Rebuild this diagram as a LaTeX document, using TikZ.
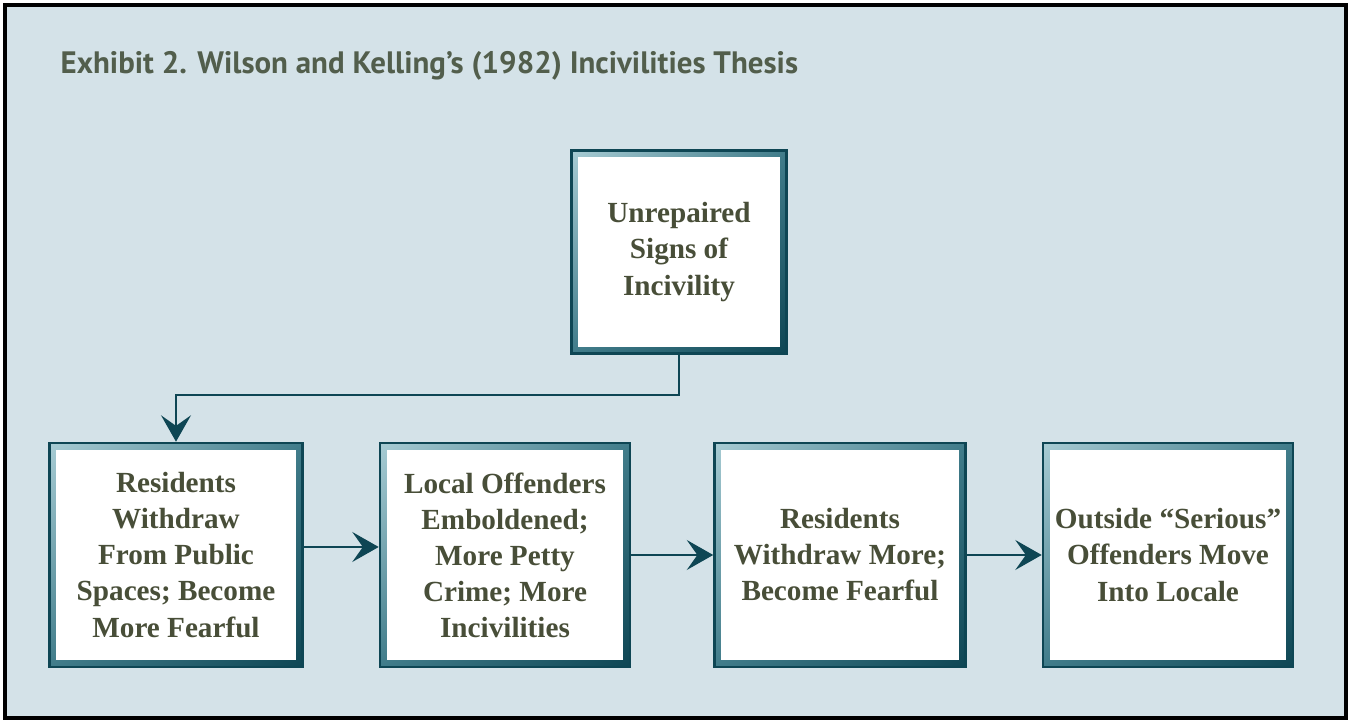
\documentclass[tikz,border=0pt]{standalone}
\usepackage{fontspec}
\setmainfont{Liberation Serif}
\newfontfamily\headfont{PT Sans}
\usetikzlibrary{arrows.meta, positioning, shadings}
\definecolor{panel}{RGB}{212,226,232}
\definecolor{tealdark}{RGB}{14,70,84}
\definecolor{tealmid}{RGB}{64,124,138}
\definecolor{teallight}{RGB}{168,204,212}
\definecolor{olivetext}{RGB}{72,78,56}
\definecolor{headtext}{RGB}{82,94,76}
\tikzset{card/.style 2 args={draw=tealdark, line width=0.7pt, minimum width=#1, minimum height=#2,
  inner sep=0pt, align=center, text=olivetext, font=\bfseries\fontsize{8.3}{10.25}\selectfont,
  upper left=teallight, upper right=tealmid, lower left=tealmid, lower right=tealdark,
  path picture={\fill[white] ([shift={(7,7)}]path picture bounding box.north west) rectangle ([shift={(-7,-7)}]path picture bounding box.south east);}},
  link/.style={draw=tealdark, line width=0.6pt, -{Stealth[length=7.5pt, width=8.5pt, inset=3pt]}}}

\begin{document}
\begin{tikzpicture}[x=0.01cm, y=-0.01cm]
\useasboundingbox (0,0) rectangle (1351,722);
%panel
\fill[panel] (5,5) rectangle (1346,718);
\draw[line width=1.15pt] (5,5) rectangle (1346,718);
\node[anchor=base west, inner sep=0pt, text=headtext, font=\headfont\bfseries\fontsize{8.8}{10}\selectfont] (title) at (60,74) {Exhibit 2. Wilson and Kelling’s (1982) Incivilities Thesis};

%boxes
\node[card={2.15cm}{2.03cm}] (signs) at (679,252) {Unrepaired\\Signs of\\Incivility};
\node[card={2.53cm}{2.24cm}] (withdraw) at (176,555) {Residents\\Withdraw\\From Public\\Spaces; Become\\More Fearful};
\node[card={2.50cm}{2.24cm}] (petty) at (505,555) {Local Offenders\\Emboldened;\\More Petty\\Crime; More\\Incivilities};
\node[card={2.51cm}{2.24cm}] (more) at (840,555) {Residents\\Withdraw More;\\Become Fearful};
\node[card={2.50cm}{2.24cm}] (serious) at (1168,555) {Outside “Serious”\\Offenders Move\\Into Locale};

%arrows
\draw[link] (signs.south) -- ++(0,40) -| (withdraw.north);
\draw[link] ([shift={(0,-8)}]withdraw.east) -- ([shift={(0,-8)}]petty.west);
\foreach \a/\b in {petty/more, more/serious} {\draw[link] (\a) -- (\b);}
\end{tikzpicture}
\end{document}
